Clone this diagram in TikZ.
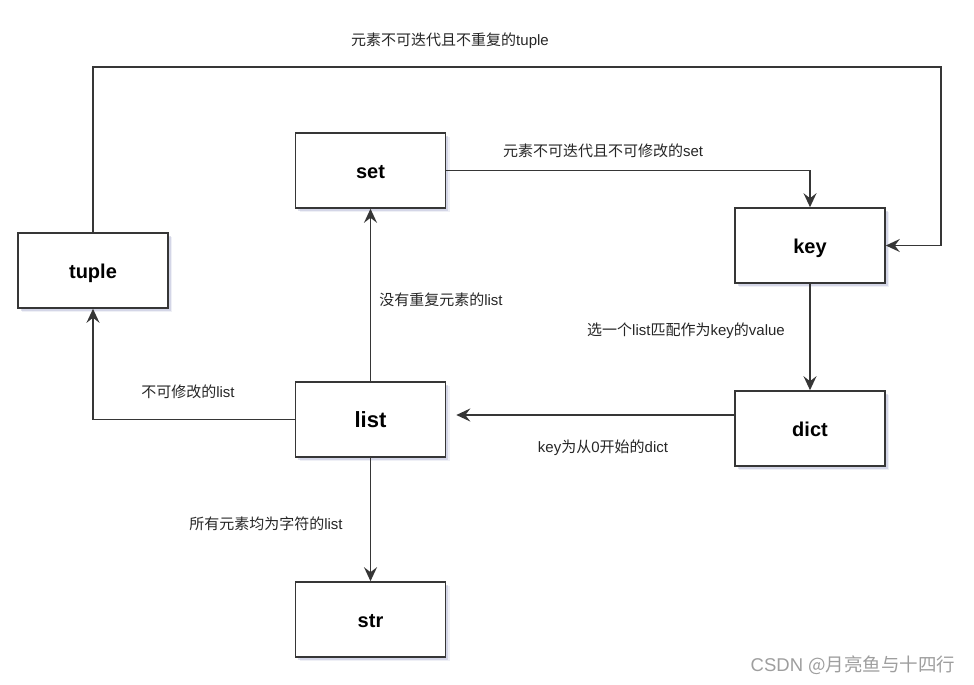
\documentclass[tikz,border=0pt]{standalone}
\usepackage{fontspec}
\setmainfont{Liberation Sans}
\newfontfamily\cjk{Noto Sans CJK SC}
\usetikzlibrary{arrows.meta,shadows}
\definecolor{linec}{HTML}{363636}
\definecolor{shadowc}{RGB}{150,155,195}
\begin{document}
\begin{tikzpicture}[x=1pt,y=-1pt,
  box/.style={draw=linec, line width=1.6pt, fill=white, minimum width=150pt, minimum height=75pt, inner sep=0pt,
    text height=19.5pt, text depth=4pt,
    font=\bfseries\fontsize{20}{24}\selectfont,
    drop shadow={shadow xshift=4pt, shadow yshift=-4pt, fill=shadowc, opacity=0.15},
    drop shadow={shadow xshift=2.5pt, shadow yshift=-2.5pt, fill=shadowc, opacity=0.3}},
  conn/.style={draw=linec, line width=1.6pt, -{Stealth[length=14pt,width=13pt,inset=5pt]}},
  lbl/.style={font=\fontsize{15}{18}\selectfont, text=black!85, inner sep=0pt}]
\path[use as bounding box] (0,0) rectangle (974,685);

\node[box] (set)   at (370.5,170.5) {set};
\node[box] (tuple) at (93,270.5)    {tuple};
\node[box] (key)   at (810,245.5)   {key};
\node[box, font=\bfseries\fontsize{22}{26}\selectfont] (list) at (370.5,419.5) {list};
\node[box] (dict)  at (810,428.5)   {dict};
\node[box] (str)   at (370.5,619.5) {str};

\coordinate (tr) at (941,67);
\draw[conn] (tuple.north) |- (tr) |- (key.east);
\draw[conn] (set.east) -| (key.north);
\draw[conn] (key.south) -- (dict.north);
\draw[conn] ([yshift=13.5pt]dict.west) -- ([xshift=10pt,yshift=4.5pt]list.east);
\draw[conn] (list.west) -| (tuple.south);
\draw[conn] (list.north) -- (set.south);
\draw[conn] (list.south) -- (str.north);

\node[lbl] (l1) at (450,41)  {{\cjk 元素不可迭代且不重复的}tuple};
\node[lbl] (l2) at (603,151) {{\cjk 元素不可迭代且不可修改的}set};
\node[lbl] (l3) at (441,300) {{\cjk 没有重复元素的}list};
\node[lbl] (l4) at (686,331) {{\cjk 选一个}list{\cjk 匹配作为}key{\cjk 的}value};
\node[lbl] (l5) at (188,392) {{\cjk 不可修改的}list};
\node[lbl] (l6) at (266,524) {{\cjk 所有元素均为字符的}list};
\node[lbl] (l7) at (603,448) {key{\cjk 为从}0{\cjk 开始的}dict};
\node[font=\fontsize{18.5}{22}\selectfont, text=black!38, inner sep=0pt] (wm) at (853,665) {CSDN {\cjk @月亮鱼与十四行}};
\end{tikzpicture}
\end{document}
